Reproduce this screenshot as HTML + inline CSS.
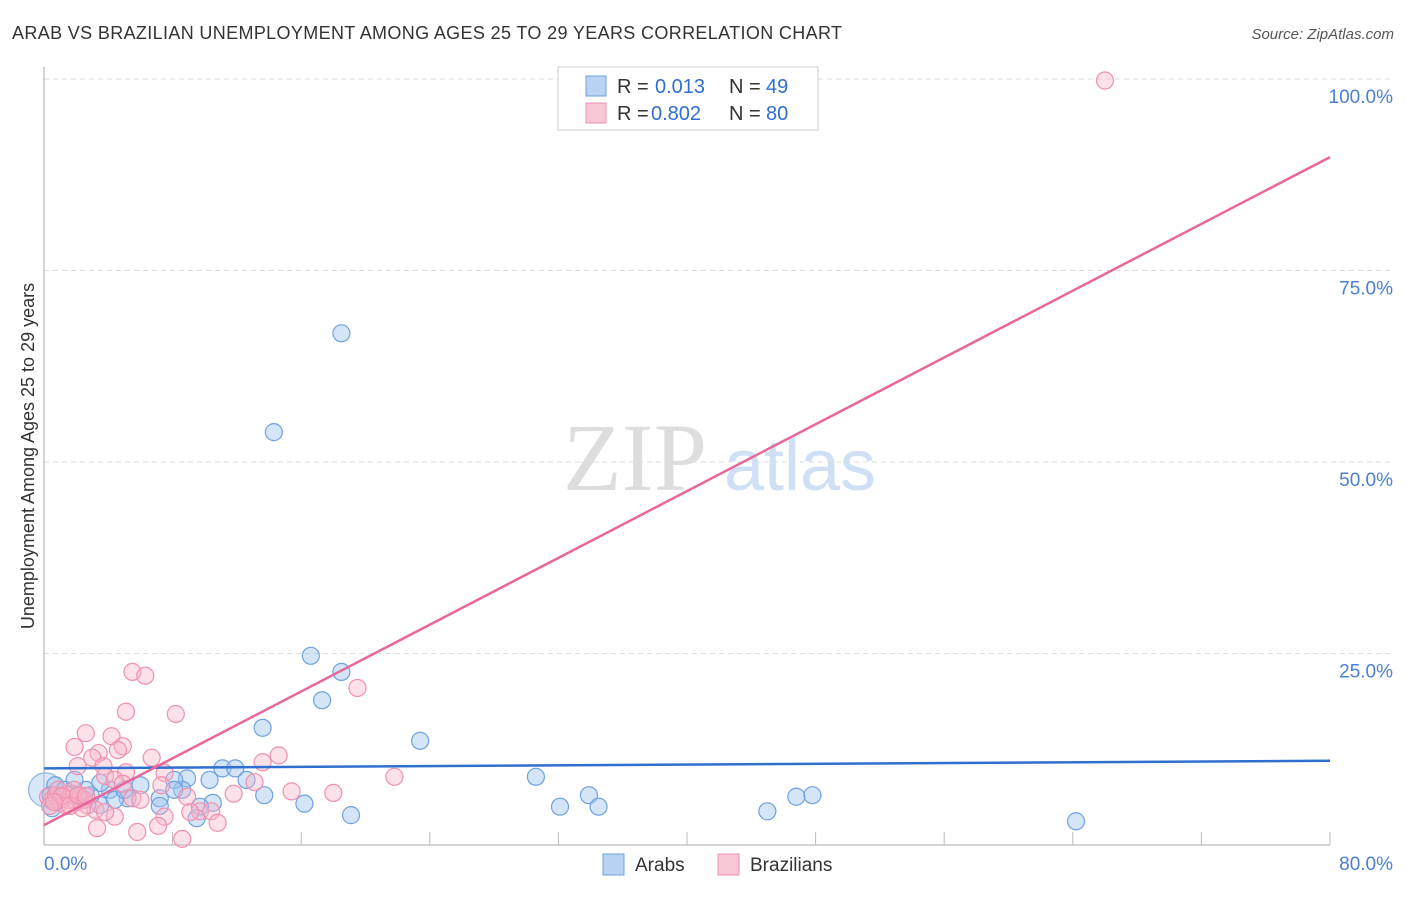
<!DOCTYPE html>
<html><head><meta charset="utf-8"><style>
body{margin:0;background:#fff;font-family:"Liberation Sans",sans-serif;}
svg text{font-family:"Liberation Sans",sans-serif;}
</style></head><body>
<svg width="1406" height="892" viewBox="0 0 1406 892">
<text x="12" y="39" font-size="18" fill="#333" textLength="830">ARAB VS BRAZILIAN UNEMPLOYMENT AMONG AGES 25 TO 29 YEARS CORRELATION CHART</text>
<text x="1394" y="39" font-size="15" fill="#555" text-anchor="end" font-style="italic">Source: ZipAtlas.com</text>
<g>
<text x="635" y="490" font-size="96" fill="#ddd" text-anchor="middle" font-family="Liberation Serif" style="font-family:'Liberation Serif',serif">ZIP</text>
<text x="800" y="490" font-size="72" fill="#d0e0f4" text-anchor="middle">atlas</text>
</g>
<g id="grid"></g>
<g id="axes"></g>
<g id="marks"></g>
<text transform="translate(34,456) rotate(-90)" font-size="18" fill="#333" text-anchor="middle">Unemployment Among Ages 25 to 29 years</text>
<g>
<rect x="558" y="67" width="260" height="63" fill="#fff" stroke="#ccc"/>
<rect x="586" y="76" width="20" height="20" fill="#b9d3f3" stroke="#6fa0e0"/>
<rect x="586" y="103" width="20" height="20" fill="#f9c6d5" stroke="#f090ae"/>
<text x="617" y="93" font-size="20" fill="#333">R =</text>
<text x="655" y="93" font-size="20" fill="#2f6fcf">0.013</text>
<text x="729" y="93" font-size="20" fill="#333">N =</text>
<text x="766" y="93" font-size="20" fill="#2f6fcf">49</text>
<text x="617" y="120" font-size="20" fill="#333">R =</text>
<text x="651" y="120" font-size="20" fill="#2f6fcf">0.802</text>
<text x="729" y="120" font-size="20" fill="#333">N =</text>
<text x="766" y="120" font-size="20" fill="#2f6fcf">80</text>
</g>
<g>
<rect x="603" y="854" width="21" height="21" fill="#b9d3f3" stroke="#6fa0e0"/>
<text x="635" y="871" font-size="19" fill="#333">Arabs</text>
<rect x="718" y="854" width="21" height="21" fill="#f9c6d5" stroke="#f090ae"/>
<text x="750" y="871" font-size="19" fill="#333">Brazilians</text>
</g>
</svg>
<script>
const yTicks=[25,50,75,100];
const yTickLabels=["25.0%","50.0%","75.0%","100.0%"];
const xTicks=[8,16,24,32,40,48,56,64,72,80];
const xEndLabels=["0.0%","80.0%"];
const arabsX=[18.5,14.3,16.6,18.5,17.3,13.6,23.4,30.6,33.9,34.5,32.1,45.0,46.8,47.8,64.2,11.1,11.9,12.6,13.7,16.2,19.1,8.9,10.3,8.6,10.5,9.7,9.5,8.1,8.1,7.2,7.2,6.0,5.2,4.1,3.5,3.5,2.9,2.2,1.6,1.0,0.4,0.7,1.3,4.4,5.0,2.6,0.5,1.9];
const arabsY=[66.8,53.9,24.7,22.6,18.9,15.3,13.6,8.9,6.5,5.0,5.0,4.4,6.3,6.5,3.1,10.0,10.0,8.5,6.5,5.4,3.9,8.7,8.5,7.2,5.5,5.0,3.5,8.5,7.2,6.1,5.1,7.8,6.1,7.2,5.2,8.1,6.5,5.9,6.5,5.9,6.5,7.8,7.2,5.9,7.2,7.2,4.8,8.5];
const brazX=[66.0,5.5,6.3,19.5,5.1,8.2,2.6,1.9,4.2,4.9,3.4,3.0,4.6,14.6,13.6,6.7,3.7,2.1,7.5,21.8,5.1,3.8,4.4,4.9,15.4,18.0,11.8,13.1,7.3,8.9,9.7,10.4,9.1,10.8,7.5,7.1,5.8,8.6,3.3,4.4,3.2,3.8,5.5,6.0,2.7,0.25,0.5,0.75,1.0,1.25,1.5,1.75,2.0,2.25,2.5,0.87,1.37,1.87,2.37,0.37,1.12,1.62,2.12,2.62,0.62];
const brazY=[99.8,22.6,22.1,20.5,17.4,17.1,14.6,12.8,14.2,12.9,12.0,11.4,12.4,11.7,10.8,11.4,10.3,10.3,9.4,8.9,9.5,9.0,8.5,8.0,7.0,6.8,6.7,8.2,7.8,6.3,4.4,4.4,4.3,2.9,3.7,2.5,1.7,0.8,2.2,3.7,4.6,4.3,6.1,5.9,5.2,6.3,5.9,6.5,5.5,6.3,5.9,6.7,5.6,6.3,5.9,7.2,5.1,7.2,4.8,5.1,6.4,5.1,6.5,6.4,5.6];
const arabsLine=[10.0,11.0];
const brazLine=[2.6,89.8];
const NS="http://www.w3.org/2000/svg";
const X=v=>44+v/80*1286, Y=v=>845-v/100*766;
function mk(t,a,p){const e=document.createElementNS(NS,t);for(const k in a)e.setAttribute(k,a[k]);document.getElementById(p).appendChild(e);return e;}
yTicks.forEach((t,i)=>{
 const g=mk('line',{x1:44,x2:1392,y1:Y(t),y2:Y(t),stroke:'#ddd','stroke-dasharray':'5,4'},'grid');
 
 
 const l=mk('text',{x:1393,y:Y(t)+24,'font-size':19,fill:'#4a7fd4','text-anchor':'end'},'axes');
 l.textContent=yTickLabels[i];
 
 
});
const ax=mk('line',{x1:44,x2:44,y1:67,y2:845,stroke:'#aaa'},'axes');


const bx=mk('line',{x1:44,x2:1330,y1:845,y2:845,stroke:'#aaa'},'axes');


xTicks.forEach(t=>{
 const k=mk('line',{x1:X(t),x2:X(t),y1:832,y2:845,stroke:'#bbb'},'axes');
 
 
});
const l0=mk('text',{x:44,y:870,'font-size':19,fill:'#4a7fd4'},'axes');l0.textContent=xEndLabels[0];


const l1=mk('text',{x:1393,y:870,'font-size':19,fill:'#4a7fd4','text-anchor':'end'},'axes');l1.textContent=xEndLabels[1];


const big=mk('circle',{cx:X(0.1),cy:Y(7.2),r:17,fill:'rgba(160,198,240,0.4)',stroke:'#8ab4e8','stroke-width':1.2},'marks');


arabsX.forEach((x,i)=>{
 const c=mk('circle',{cx:X(x),cy:Y(arabsY[i]),r:8.5,fill:'rgba(160,198,240,0.45)',stroke:'#6fa0e0','stroke-width':1.2},'marks');
 
 
});
brazX.forEach((x,i)=>{
 const c=mk('circle',{cx:X(x),cy:Y(brazY[i]),r:8.5,fill:'rgba(248,180,200,0.4)',stroke:'#f090ae','stroke-width':1.2},'marks');
 
 
});
const la=mk('line',{x1:X(0),x2:X(80),y1:Y(arabsLine[0]),y2:Y(arabsLine[1]),stroke:'#2f6fcf','stroke-width':2.5},'marks');


const lb=mk('line',{x1:X(0),x2:X(80),y1:Y(brazLine[0]),y2:Y(brazLine[1]),stroke:'#e8669a','stroke-width':2.5},'marks');


</script>
</body></html>
